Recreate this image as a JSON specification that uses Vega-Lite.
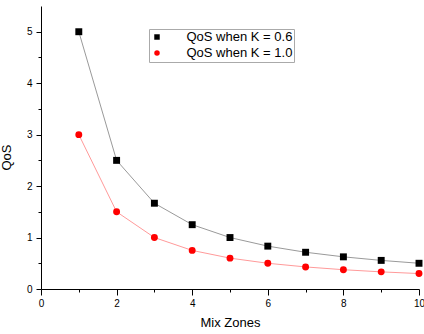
{
  "$schema": "https://vega.github.io/schema/vega-lite/v6.json",
  "width": 378,
  "height": 283,
  "autosize": {"type": "none"},
  "padding": {"left": 41, "top": 6, "right": 5, "bottom": 45},
  "config": {
    "view": {"stroke": null},
    "font": "Liberation Sans",
    "axis": {
      "grid": false,
      "domainColor": "#000",
      "domainWidth": 1,
      "tickColor": "#000",
      "tickWidth": 1,
      "labelColor": "#000",
      "labelFont": "Liberation Sans",
      "labelFontSize": 10,
      "titleFont": "Liberation Sans",
      "titleFontSize": 13,
      "titleFontWeight": "normal",
      "titleColor": "#000"
    }
  },
  "data": {
    "values": [
      {"x": 1, "qos": 5.0, "series": "QoS when K = 0.6"},
      {"x": 2, "qos": 2.5, "series": "QoS when K = 0.6"},
      {"x": 3, "qos": 1.667, "series": "QoS when K = 0.6"},
      {"x": 4, "qos": 1.25, "series": "QoS when K = 0.6"},
      {"x": 5, "qos": 1.0, "series": "QoS when K = 0.6"},
      {"x": 6, "qos": 0.833, "series": "QoS when K = 0.6"},
      {"x": 7, "qos": 0.714, "series": "QoS when K = 0.6"},
      {"x": 8, "qos": 0.625, "series": "QoS when K = 0.6"},
      {"x": 9, "qos": 0.556, "series": "QoS when K = 0.6"},
      {"x": 10, "qos": 0.5, "series": "QoS when K = 0.6"},
      {"x": 1, "qos": 3.0, "series": "QoS when K = 1.0"},
      {"x": 2, "qos": 1.5, "series": "QoS when K = 1.0"},
      {"x": 3, "qos": 1.0, "series": "QoS when K = 1.0"},
      {"x": 4, "qos": 0.75, "series": "QoS when K = 1.0"},
      {"x": 5, "qos": 0.6, "series": "QoS when K = 1.0"},
      {"x": 6, "qos": 0.5, "series": "QoS when K = 1.0"},
      {"x": 7, "qos": 0.429, "series": "QoS when K = 1.0"},
      {"x": 8, "qos": 0.375, "series": "QoS when K = 1.0"},
      {"x": 9, "qos": 0.333, "series": "QoS when K = 1.0"},
      {"x": 10, "qos": 0.3, "series": "QoS when K = 1.0"}
    ]
  },
  "encoding": {
    "color": {
      "field": "series",
      "type": "nominal",
      "scale": {"domain": ["QoS when K = 0.6", "QoS when K = 1.0"], "range": ["#000000", "#ff0000"]},
      "legend": {
        "title": null,
        "orient": "none",
        "legendX": 108,
        "legendY": 23,
        "padding": 1.5,
        "strokeColor": "#aaaaaa",
        "labelFont": "Liberation Sans",
        "labelFontSize": 13,
        "labelColor": "#000",
        "symbolSize": 30,
        "symbolOffset": 0,
        "symbolOpacity": 1,
        "symbolStrokeWidth": 0,
        "labelOffset": 23,
        "rowPadding": 2
      }
    }
  },
  "layer": [
    {
      "mark": {"type": "line", "strokeWidth": 1, "opacity": 0.4},
      "encoding": {
        "x": {
          "field": "x",
          "type": "quantitative",
          "scale": {"domain": [0, 10], "nice": false},
          "axis": {
            "orient": "bottom",
            "title": null,
            "values": [1, 3, 5, 7, 9],
            "labels": false,
            "domain": false,
            "tickSize": 3
          }
        },
        "y": {
          "field": "qos",
          "type": "quantitative",
          "scale": {"domain": [0, 5.5], "nice": false},
          "axis": {
            "orient": "left",
            "title": null,
            "values": [0.5, 1.5, 2.5, 3.5, 4.5],
            "labels": false,
            "domain": false,
            "tickSize": 3
          }
        }
      }
    },
    {
      "mark": {"type": "point", "filled": true, "size": 48, "opacity": 1},
      "encoding": {
        "x": {
          "field": "x",
          "type": "quantitative",
          "scale": {"domain": [0, 10], "nice": false},
          "axis": {
            "orient": "bottom",
            "title": "Mix Zones",
            "values": [0, 2, 4, 6, 8, 10],
            "tickSize": 6,
            "labelPadding": 3,
            "labelFlush": false,
            "labelOverlap": false,
            "titlePadding": 8
          }
        },
        "y": {
          "field": "qos",
          "type": "quantitative",
          "scale": {"domain": [0, 5.5], "nice": false},
          "axis": {
            "orient": "left",
            "title": "QoS",
            "values": [0, 1, 2, 3, 4, 5],
            "tickSize": 5,
            "labelPadding": 4,
            "labelOverlap": false,
            "labelFlush": false,
            "titleX": -28,
            "titleY": 151
          }
        },
        "shape": {
          "field": "series",
          "type": "nominal",
          "scale": {"domain": ["QoS when K = 0.6", "QoS when K = 1.0"], "range": ["square", "circle"]},
          "legend": null
        }
      }
    }
  ],
  "resolve": {"axis": {"x": "independent", "y": "independent"}}
}
